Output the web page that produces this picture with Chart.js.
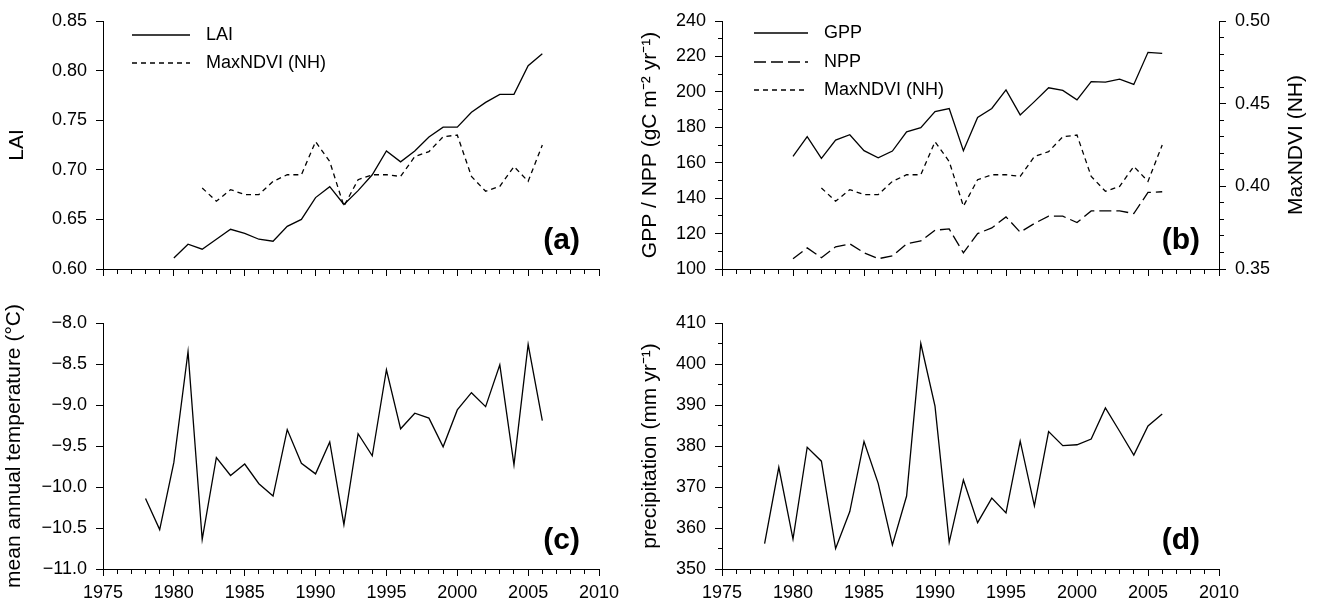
<!DOCTYPE html>
<html>
<head>
<meta charset="utf-8">
<script src="https://cdn.jsdelivr.net/npm/chart.js@4.4.0/dist/chart.umd.min.js"></script>
<style>
  html, body { margin: 0; padding: 0; background: #fff; }
  #wrap { position: relative; width: 1320px; height: 603px; }
  #wrap canvas { position: absolute; left: 0; top: 0; }
</style>
</head>
<body>
<div id="wrap">
  <canvas id="chartA" width="1320" height="603"></canvas>
  <canvas id="chartB" width="1320" height="603"></canvas>
  <canvas id="chartC" width="1320" height="603"></canvas>
  <canvas id="chartD" width="1320" height="603"></canvas>
</div>
<script>
// years
const yearsLai = [1980,1981,1982,1983,1984,1985,1986,1987,1988,1989,1990,1991,1992,1993,1994,1995,1996,1997,1998,1999,2000,2001,2002,2003,2004,2005,2006];
const yearsNdvi = [1982,1983,1984,1985,1986,1987,1988,1989,1990,1991,1992,1993,1994,1995,1996,1997,1998,1999,2000,2001,2002,2003,2004,2005,2006];
const yearsClim = [1978,1979,1980,1981,1982,1983,1984,1985,1986,1987,1988,1989,1990,1991,1992,1993,1994,1995,1996,1997,1998,1999,2000,2001,2002,2003,2004,2005,2006];

// (a) / (b)
const lai = [0.611,0.625,0.620,0.630,0.640,0.636,0.630,0.628,0.643,0.650,0.672,0.683,0.665,0.679,0.695,0.719,0.708,0.719,0.733,0.743,0.743,0.758,0.768,0.776,0.776,0.805,0.817];
const maxNdvi = [0.399,0.391,0.398,0.395,0.395,0.403,0.407,0.407,0.427,0.415,0.388,0.404,0.407,0.407,0.406,0.418,0.421,0.430,0.431,0.406,0.397,0.400,0.412,0.403,0.425];
const gpp = [163.6,174.7,162.5,172.8,175.8,166.8,162.8,166.6,177.4,179.8,188.9,190.6,166.8,185.5,190.6,201.1,187.0,194.5,202.3,200.8,195.5,205.8,205.5,207.2,204.2,222.3,221.7];
const npp = [105.8,111.9,106.4,112.5,114.2,109.2,105.8,107.4,114.2,115.8,121.9,122.6,109.1,120.0,123.2,129.4,120.8,125.7,129.8,129.8,126.2,132.8,132.8,132.8,131.3,143.2,143.6];

// (c) / (d)
const temperature = [-10.14,-10.52,-9.70,-8.35,-10.64,-9.64,-9.86,-9.72,-9.96,-10.11,-9.30,-9.71,-9.84,-9.45,-10.46,-9.35,-9.62,-8.57,-9.29,-9.10,-9.16,-9.51,-9.06,-8.85,-9.02,-8.51,-9.73,-8.26,-9.19];
const precipitation = [356.2,374.8,357.3,379.7,376.3,355.0,364.0,381.1,370.9,355.9,367.8,405.0,389.7,356.5,371.7,361.3,367.3,363.7,381.2,365.4,383.5,380.1,380.3,381.7,389.3,383.6,377.8,384.9,387.8];

const FAMILY = '"Liberation Sans", Arial, Helvetica, sans-serif';
const tickFont = { family: FAMILY, size: 18 };
const titleFont = { family: FAMILY, size: 21 };
const solid = [];
const longDash = [12, 5];
const shortDash = [5, 4];

const pts = (xs, ys) => xs.map((x, i) => ({ x: x, y: ys[i] }));

function line(label, xs, ys, dash, axis) {
  return {
    label: label,
    data: pts(xs, ys),
    borderColor: '#000',
    borderWidth: 1.3,
    borderDash: dash,
    pointRadius: 0,
    tension: 0,
    fill: false,
    yAxisID: axis || 'y'
  };
}

// minor ticks are drawn shorter with a dash on the tick line
const isMajor = (v, step) => Math.abs(v / step - Math.round(v / step)) < 1e-6;

function xAxis(labels, height) {
  return {
    type: 'linear', min: 1975, max: 2010,
    afterFit: s => { s.height = height; },
    border: { color: '#000', width: 1 },
    grid: {
      drawOnChartArea: false, tickLength: 7, tickColor: '#000', tickWidth: 1,
      tickBorderDash: c => (c.tick && isMajor(c.tick.value, 5)) ? [] : [4, 40]
    },
    ticks: {
      stepSize: 1, autoSkip: false, maxRotation: 0, display: labels, padding: 6,
      color: '#000', font: tickFont,
      callback: v => isMajor(v, 5) ? String(v) : ''
    }
  };
}

function yAxis(o) {
  return {
    type: 'linear', position: o.position || 'left', min: o.min, max: o.max,
    afterFit: s => { s.width = o.width; },
    border: { color: '#000', width: 1 },
    grid: {
      drawOnChartArea: false, tickLength: 7, tickColor: '#000', tickWidth: 1,
      tickBorderDash: c => (c.tick && isMajor(c.tick.value, o.major)) ? [] :
        (o.position === 'right' ? [4, 40] : [0, 3, 4, 40])
    },
    ticks: {
      stepSize: o.step, autoSkip: false, padding: 9, color: '#000', font: tickFont,
      callback: v => isMajor(v, o.major) ? o.fmt(v) : ''
    },
    title: o.title ? {
      display: true, text: o.title, color: '#000', font: titleFont,
      padding: { top: o.titlePad, bottom: 0 }
    } : { display: false }
  };
}

const extras = {
  id: 'extras',
  afterDraw(chart, args, opts) {
    const ctx = chart.ctx;
    ctx.save();
    ctx.fillStyle = '#000';
    ctx.strokeStyle = '#000';
    (opts.legendRows || []).forEach((rowY, i) => {
      const ds = chart.data.datasets[i];
      ctx.beginPath();
      ctx.lineWidth = 1.3;
      ctx.setLineDash(ds.borderDash);
      ctx.moveTo(opts.legendX, rowY);
      ctx.lineTo(opts.legendX + opts.legendLen, rowY);
      ctx.stroke();
      ctx.setLineDash([]);
      ctx.font = '18px ' + FAMILY;
      ctx.textAlign = 'left';
      ctx.textBaseline = 'middle';
      ctx.fillText(ds.label, opts.legendX + opts.legendLen + 16, rowY);
    });
    if (opts.tag) {
      ctx.font = 'bold 30px ' + FAMILY;
      ctx.textAlign = 'right';
      ctx.textBaseline = 'alphabetic';
      ctx.fillText(opts.tag, chart.chartArea.right - 19, chart.chartArea.bottom - 20);
    }
    if (opts.rightTitle) {
      ctx.translate(opts.rightTitleX, (chart.chartArea.top + chart.chartArea.bottom) / 2);
      ctx.rotate(-Math.PI / 2);
      ctx.font = '21px ' + FAMILY;
      ctx.textAlign = 'center';
      ctx.textBaseline = 'middle';
      ctx.fillText(opts.rightTitle, 0, 0);
    }
    ctx.restore();
  }
};

function makeChart(id, datasets, padding, scales, extraOpts) {
  return new Chart(document.getElementById(id), {
    type: 'line',
    data: { datasets: datasets },
    options: {
      responsive: false,
      animation: false,
      devicePixelRatio: 1,
      events: [],
      layout: { padding: padding },
      scales: scales,
      plugins: { legend: { display: false }, tooltip: { enabled: false }, extras: extraOpts }
    },
    plugins: [extras]
  });
}

// (a) LAI with MaxNDVI on a hidden axis
makeChart('chartA',
  [line('LAI', yearsLai, lai, solid), line('MaxNDVI (NH)', yearsNdvi, maxNdvi, shortDash, 'yN')],
  { left: 0, right: 721, top: 21, bottom: 303 },
  {
    x: xAxis(false, 31),
    y: yAxis({ min: 0.6, max: 0.85, step: 0.05, major: 0.05, width: 103, fmt: v => v.toFixed(2), title: 'LAI', titlePad: 5 }),
    yN: { type: 'linear', display: false, min: 0.35, max: 0.5 }
  },
  { legendRows: [35, 63], legendX: 132, legendLen: 58, tag: '(a)' }
);

// (b) GPP / NPP with MaxNDVI on the right axis
makeChart('chartB',
  [line('GPP', yearsLai, gpp, solid), line('NPP', yearsLai, npp, longDash), line('MaxNDVI (NH)', yearsNdvi, maxNdvi, shortDash, 'yR')],
  { left: 638, right: 0, top: 21, bottom: 303 },
  {
    x: xAxis(false, 31),
    y: yAxis({ min: 100, max: 240, step: 10, major: 20, width: 84, fmt: v => String(Math.round(v)), title: 'GPP / NPP (gC m\u207B\u00B2 yr\u207B\u00B9)', titlePad: 0 }),
    yR: yAxis({ position: 'right', min: 0.35, max: 0.5, step: 0.01, major: 0.05, width: 101, fmt: v => v.toFixed(2) })
  },
  { legendRows: [33, 62, 90], legendX: 754, legendLen: 54, tag: '(b)', rightTitle: 'MaxNDVI (NH)', rightTitleX: 1296 }
);

// (c) temperature
makeChart('chartC',
  [line('temperature', yearsClim, temperature, solid)],
  { left: 0, right: 721, top: 323, bottom: 0 },
  {
    x: xAxis(true, 34),
    y: yAxis({ min: -11, max: -8, step: 0.5, major: 0.5, width: 103, fmt: v => (v < 0 ? '\u2212' : '') + Math.abs(v).toFixed(1), title: 'mean annual temperature (\u00B0C)', titlePad: 2 })
  },
  { tag: '(c)' }
);

// (d) precipitation
makeChart('chartD',
  [line('precipitation', yearsClim, precipitation, solid)],
  { left: 638, right: 101, top: 323, bottom: 0 },
  {
    x: xAxis(true, 34),
    y: yAxis({ min: 350, max: 410, step: 5, major: 10, width: 84, fmt: v => String(Math.round(v)), title: 'precipitation (mm yr\u207B\u00B9)', titlePad: 0 })
  },
  { tag: '(d)' }
);
</script>
</body>
</html>
